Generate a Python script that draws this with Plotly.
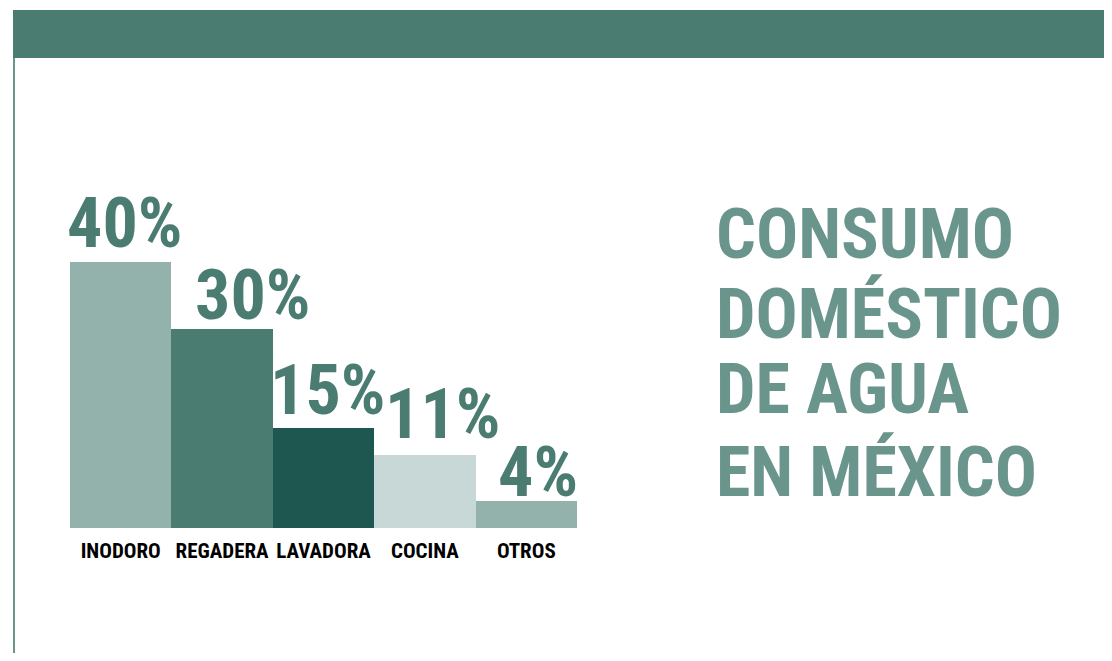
import plotly.graph_objects as go

categories = ["INODORO", "REGADERA", "LAVADORA", "COCINA", "OTROS"]
values = [40, 30, 15, 11, 4]
value_labels = ["40%", "30%", "15%", "11%", "4%"]
bar_colors = ["#93b2ab", "#4b7c72", "#1e5750", "#c8d8d6", "#93b2ab"]
title_lines = ["CONSUMO", "DOMÉSTICO", "DE AGUA", "EN MÉXICO"]

# page has an 8px body margin; figure sized so the page is 1112x661
OFF = 8
W, H = 1112 - 2 * OFF, 661 - 2 * OFF
FONT = "Roboto Condensed, DejaVu Sans Condensed, sans-serif"


def px_x(p):
    return (p - OFF) / W


def px_y(p):
    return 1 - (p - OFF) / H


fig = go.Figure()
fig.add_trace(go.Bar(
    x=categories, y=values,
    marker=dict(color=bar_colors, line=dict(width=0)),
    hoverinfo="skip",
))

annotations = []
label_xshift = [4, 30, 4, 18, 12]
label_yshift = [-4, -9, -5, -2, -14]
for c, v, t, sx, sy in zip(categories, values, value_labels, label_xshift, label_yshift):
    annotations.append(dict(
        x=c, y=v, xref="x", yref="y", text=t, showarrow=False,
        yanchor="bottom", xanchor="center", yshift=sy, xshift=sx,
        font=dict(family=FONT, size=70, color="#4b7c72", weight="bold"),
    ))

title_y = [234, 314, 389, 472]
for line, yc in zip(title_lines, title_y):
    annotations.append(dict(
        x=px_x(714), y=px_y(yc), xref="paper", yref="paper", text=line,
        showarrow=False, xanchor="left", yanchor="middle",
        font=dict(family=FONT, size=70, color="#6a958d", weight="bold"),
    ))

shapes = [
    dict(type="rect", xref="paper", yref="paper",
         x0=px_x(13), x1=1.0, y0=px_y(58), y1=px_y(10),
         fillcolor="#4b7c72", line=dict(width=0), layer="below"),
    dict(type="line", xref="paper", yref="paper",
         x0=px_x(14), x1=px_x(14), y0=px_y(58), y1=0,
         line=dict(color="#6a958d", width=2)),
]

fig.update_layout(
    width=W, height=H,
    margin=dict(l=0, r=0, t=0, b=0, pad=0, autoexpand=False),
    paper_bgcolor="white", plot_bgcolor="white",
    bargap=0,
    showlegend=False,
    xaxis=dict(
        domain=[px_x(70), px_x(577)],
        range=[-0.5, len(categories) - 0.5],
        showgrid=False, zeroline=False, showline=False,
        ticks="", tickangle=0, ticklabelstandoff=8,
        tickfont=dict(family=FONT, size=21, color="#000000", weight="bold"),
    ),
    yaxis=dict(
        domain=[px_y(528), px_y(262)],
        range=[0, 40],
        showgrid=False, zeroline=False, showline=False,
        showticklabels=False, ticks="",
    ),
    annotations=annotations,
    shapes=shapes,
)

fig.write_html("out.html")
